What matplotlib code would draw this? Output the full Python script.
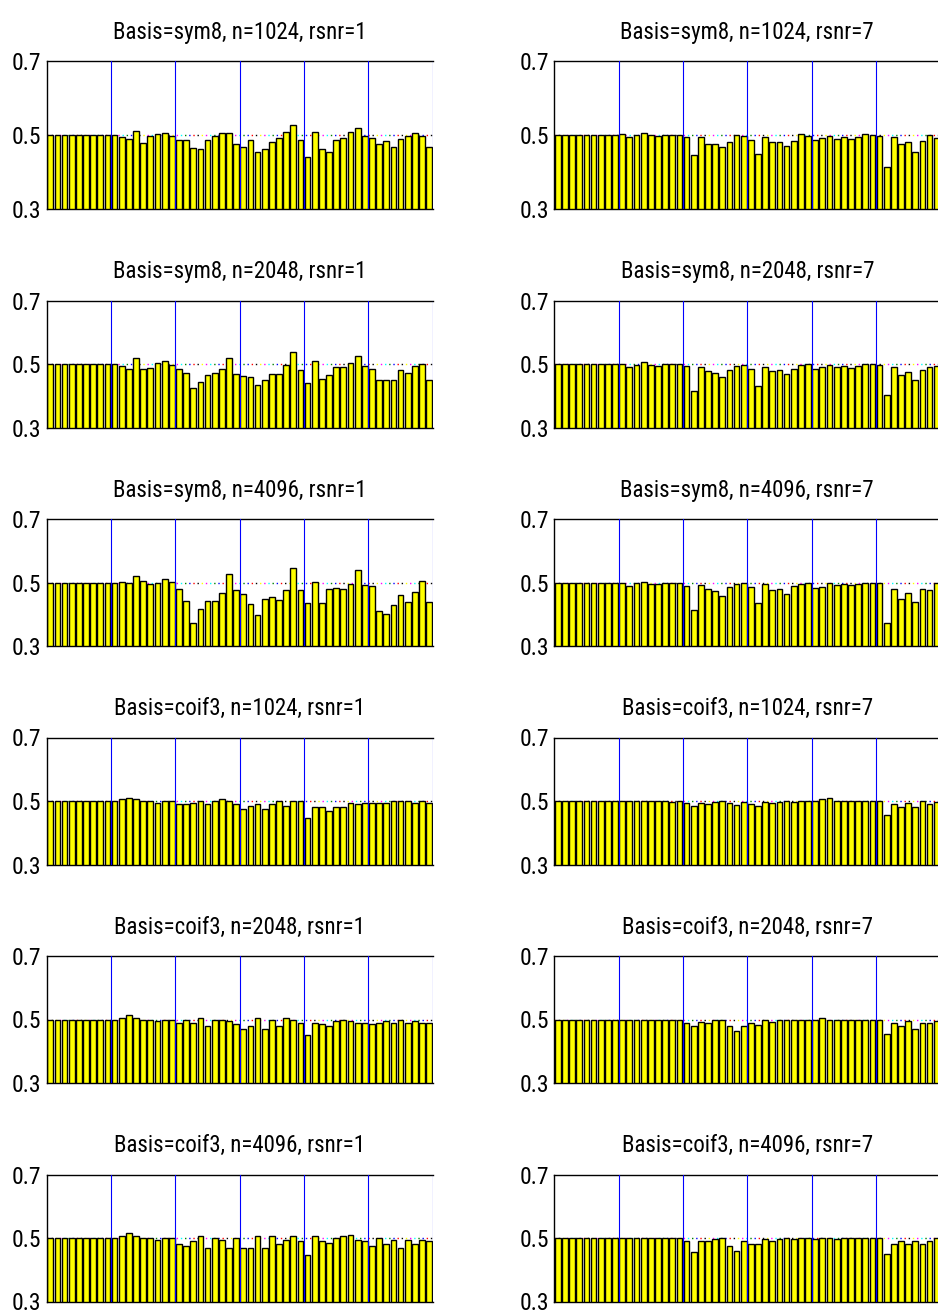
import matplotlib
matplotlib.use("Agg")
import matplotlib.pyplot as plt
from matplotlib import font_manager
import numpy as np

plt.rcParams['font.family'] = ['Liberation Sans', 'DejaVu Sans']

# look for a narrow helvetica-like face (the reference uses a condensed look)
narrow = None
for pref in ['Liberation Sans Narrow', 'Roboto Condensed', 'Open Sans Condensed', 'Noto Sans', 'Roboto', 'Open Sans']:
    for f in font_manager.fontManager.ttflist:
        if not f.name.startswith(pref):
            continue
        if f.style != 'normal' or f.weight not in (400, 'normal', 'regular'):
            continue
        if 'Narrow' in f.name or 'Condensed' in f.name or f.stretch in ('condensed', 'semi-condensed'):
            narrow = f.fname
            break
    if narrow:
        break

if narrow:
    title_fp = font_manager.FontProperties(fname=narrow, size=16.5)
    tick_fp = font_manager.FontProperties(fname=narrow, size=17)
else:
    title_fp = font_manager.FontProperties(family=['Liberation Sans', 'DejaVu Sans'], size=14.5)
    tick_fp = font_manager.FontProperties(family=['Liberation Sans', 'DejaVu Sans'], size=15)

base = [0.5] * 9

# sym8, rsnr=1
s8_1024_r1 = base + [0.501, 0.494, 0.488, 0.512, 0.479, 0.496, 0.503, 0.506, 0.496,
                     0.486, 0.486, 0.465, 0.463, 0.487, 0.496, 0.505, 0.506, 0.477,
                     0.468, 0.486, 0.454, 0.461, 0.482, 0.493, 0.509, 0.526, 0.486,
                     0.440, 0.509, 0.463, 0.454, 0.486, 0.493, 0.507, 0.518, 0.498,
                     0.491, 0.477, 0.484, 0.467, 0.489, 0.497, 0.505, 0.496, 0.468]
s8_2048_r1 = base + [0.499, 0.493, 0.485, 0.518, 0.485, 0.488, 0.502, 0.509, 0.497,
                     0.485, 0.471, 0.423, 0.443, 0.465, 0.471, 0.484, 0.518, 0.467,
                     0.461, 0.460, 0.433, 0.450, 0.468, 0.467, 0.497, 0.539, 0.480,
                     0.440, 0.511, 0.453, 0.466, 0.490, 0.489, 0.504, 0.525, 0.493,
                     0.485, 0.449, 0.450, 0.450, 0.480, 0.473, 0.495, 0.500, 0.451]
s8_4096_r1 = base + [0.498, 0.503, 0.498, 0.522, 0.506, 0.495, 0.497, 0.512, 0.501,
                     0.481, 0.441, 0.374, 0.418, 0.442, 0.441, 0.467, 0.526, 0.475,
                     0.464, 0.432, 0.399, 0.449, 0.454, 0.445, 0.477, 0.545, 0.477,
                     0.437, 0.503, 0.437, 0.478, 0.482, 0.478, 0.495, 0.539, 0.492,
                     0.488, 0.409, 0.402, 0.428, 0.462, 0.438, 0.469, 0.506, 0.438]
# sym8, rsnr=7
s8_1024_r7 = base + [0.502, 0.495, 0.499, 0.505, 0.499, 0.496, 0.499, 0.501, 0.500,
                     0.495, 0.445, 0.495, 0.476, 0.477, 0.467, 0.480, 0.501, 0.497,
                     0.487, 0.449, 0.495, 0.481, 0.482, 0.471, 0.484, 0.502, 0.498,
                     0.487, 0.492, 0.496, 0.490, 0.495, 0.490, 0.494, 0.503, 0.501,
                     0.498, 0.414, 0.495, 0.475, 0.481, 0.453, 0.483, 0.500, 0.492]
s8_2048_r7 = base + [0.500, 0.491, 0.498, 0.506, 0.498, 0.495, 0.499, 0.500, 0.500,
                     0.493, 0.416, 0.490, 0.478, 0.472, 0.460, 0.482, 0.495, 0.497,
                     0.484, 0.431, 0.492, 0.479, 0.481, 0.468, 0.484, 0.497, 0.499,
                     0.484, 0.489, 0.496, 0.491, 0.495, 0.488, 0.494, 0.501, 0.499,
                     0.497, 0.401, 0.489, 0.465, 0.474, 0.451, 0.481, 0.492, 0.493]
s8_4096_r7 = base + [0.497, 0.488, 0.497, 0.502, 0.495, 0.496, 0.499, 0.499, 0.498,
                     0.488, 0.414, 0.491, 0.478, 0.474, 0.459, 0.487, 0.494, 0.497,
                     0.486, 0.435, 0.494, 0.477, 0.481, 0.464, 0.488, 0.495, 0.498,
                     0.482, 0.485, 0.497, 0.493, 0.494, 0.491, 0.495, 0.499, 0.499,
                     0.498, 0.372, 0.478, 0.448, 0.468, 0.440, 0.478, 0.475, 0.497]
# coif3, rsnr=1
c3_1024_r1 = base + [0.500, 0.505, 0.510, 0.505, 0.500, 0.500, 0.495, 0.500, 0.500,
                     0.490, 0.490, 0.495, 0.500, 0.490, 0.500, 0.505, 0.500, 0.490,
                     0.475, 0.485, 0.490, 0.475, 0.490, 0.500, 0.485, 0.500, 0.500,
                     0.445, 0.480, 0.480, 0.470, 0.480, 0.480, 0.495, 0.490, 0.495,
                     0.495, 0.495, 0.495, 0.500, 0.500, 0.500, 0.495, 0.500, 0.495]
c3_2048_r1 = base + [0.500, 0.505, 0.515, 0.505, 0.500, 0.500, 0.495, 0.500, 0.500,
                     0.490, 0.500, 0.490, 0.505, 0.480, 0.500, 0.500, 0.495, 0.485,
                     0.470, 0.480, 0.505, 0.470, 0.500, 0.480, 0.505, 0.500, 0.490,
                     0.450, 0.490, 0.485, 0.480, 0.495, 0.500, 0.495, 0.490, 0.490,
                     0.485, 0.490, 0.495, 0.490, 0.500, 0.490, 0.495, 0.490, 0.490]
c3_4096_r1 = base + [0.500, 0.505, 0.515, 0.505, 0.500, 0.500, 0.495, 0.500, 0.500,
                     0.480, 0.475, 0.490, 0.505, 0.470, 0.500, 0.495, 0.470, 0.500,
                     0.470, 0.470, 0.505, 0.470, 0.505, 0.480, 0.495, 0.505, 0.490,
                     0.445, 0.505, 0.490, 0.485, 0.500, 0.505, 0.510, 0.495, 0.490,
                     0.475, 0.500, 0.480, 0.495, 0.470, 0.495, 0.480, 0.495, 0.490]
# coif3, rsnr=7
c3_1024_r7 = base + [0.500, 0.500, 0.500, 0.500, 0.500, 0.500, 0.500, 0.498, 0.500,
                     0.495, 0.485, 0.495, 0.492, 0.497, 0.500, 0.495, 0.487, 0.497,
                     0.492, 0.485, 0.497, 0.493, 0.497, 0.500, 0.497, 0.500, 0.500,
                     0.500, 0.505, 0.510, 0.500, 0.500, 0.500, 0.500, 0.500, 0.500,
                     0.500, 0.455, 0.490, 0.480, 0.495, 0.480, 0.500, 0.490, 0.498]
c3_2048_r7 = base + [0.500, 0.500, 0.500, 0.500, 0.500, 0.500, 0.500, 0.500, 0.500,
                     0.490, 0.480, 0.492, 0.490, 0.497, 0.500, 0.480, 0.465, 0.480,
                     0.490, 0.482, 0.497, 0.492, 0.497, 0.500, 0.497, 0.500, 0.500,
                     0.497, 0.505, 0.500, 0.497, 0.500, 0.500, 0.500, 0.500, 0.500,
                     0.500, 0.455, 0.490, 0.480, 0.495, 0.470, 0.490, 0.490, 0.495]
c3_4096_r7 = base + [0.500, 0.500, 0.500, 0.500, 0.500, 0.500, 0.500, 0.500, 0.500,
                     0.490, 0.455, 0.490, 0.492, 0.497, 0.500, 0.475, 0.460, 0.490,
                     0.480, 0.482, 0.497, 0.492, 0.497, 0.500, 0.497, 0.500, 0.500,
                     0.497, 0.500, 0.500, 0.497, 0.500, 0.500, 0.500, 0.500, 0.500,
                     0.500, 0.450, 0.480, 0.490, 0.480, 0.490, 0.480, 0.490, 0.500]

bases = ['sym8', 'sym8', 'sym8', 'coif3', 'coif3', 'coif3']
sizes = [1024, 2048, 4096, 1024, 2048, 4096]
left_data = [s8_1024_r1, s8_2048_r1, s8_4096_r1, c3_1024_r1, c3_2048_r1, c3_4096_r1]
right_data = [s8_1024_r7, s8_2048_r7, s8_4096_r7, c3_1024_r7, c3_2048_r7, c3_4096_r7]

W, H = 938, 1315
fig = plt.figure(figsize=(W / 100, H / 100), dpi=100)

dot_colors = ['red', 'blue', 'green', 'cyan', 'magenta', 'yellow', 'black']


def draw_panel(ax, vals, title):
    x = np.arange(1, len(vals) + 1)
    # dotted reference at 0.5, multi-coloured dots
    for k, c in enumerate(dot_colors):
        ax.plot([0.5, len(vals) + 0.5], [0.5, 0.5], color=c, lw=1.0,
                linestyle=(k * 3, (1, 3 * len(dot_colors) - 1)), zorder=1)
    ax.bar(x, vals, width=0.8, color='yellow', edgecolor='black', linewidth=1.0, zorder=2)
    for g in range(9, len(vals) + 1, 9):
        ax.axvline(g + 0.5, color='blue', lw=0.8, zorder=3)
    ax.set_xlim(0.5, len(vals) + 0.5)
    ax.set_ylim(0.3, 0.7)
    ax.set_yticks([0.3, 0.5, 0.7])
    ax.set_yticklabels(['0.3', '0.5', '0.7'], fontproperties=tick_fp)
    ax.set_xticks([])
    ax.tick_params(axis='y', length=0, pad=4)
    for s in ['top', 'left', 'bottom']:
        ax.spines[s].set_color('black')
        ax.spines[s].set_linewidth(1.0)
    ax.spines['right'].set_visible(False)
    ax.set_title(title, fontproperties=title_fp, pad=16)


ax_w = 386
for i in range(6):
    bottom_px = 209 + 218.5 * i
    top_px = 61 if i == 0 else bottom_px - 127
    h = (bottom_px - top_px) / H
    y0 = 1 - bottom_px / H
    for col, (x_px, data, rs) in enumerate([(46.7, left_data, 1), (554.3, right_data, 7)]):
        ax = fig.add_axes([x_px / W, y0, ax_w / W, h])
        draw_panel(ax, data[i], 'Basis=%s, n=%d, rsnr=%d' % (bases[i], sizes[i], rs))

fig.savefig('out.png', dpi=100)
